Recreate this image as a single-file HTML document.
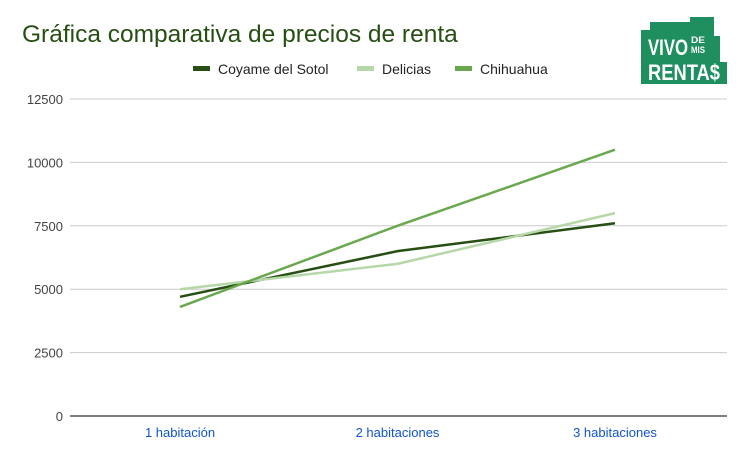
<!DOCTYPE html>
<html><head><meta charset="utf-8"><style>
body{margin:0;background:#fff;font-family:"Liberation Sans",sans-serif;}
</style></head><body>
<svg width="749" height="461" xmlns="http://www.w3.org/2000/svg">
<rect width="749" height="461" fill="#fff"/>
<text x="22" y="42" font-size="24.5" fill="#274e13" font-family="Liberation Sans">Gráfica comparativa de precios de renta</text>
<g>
<path d="M641,84 L641,30 L650,30 L650,22 L690,22 L690,17 L714,17 L714,36 L720,36 L720,62 L727,62 L727,84 Z" fill="#1f8f5f"/>
<text x="648" y="55" font-size="22" font-weight="bold" fill="#fff" textLength="40" lengthAdjust="spacingAndGlyphs">VIVO</text>
<text x="691" y="43" font-size="9" font-weight="bold" fill="#fff" textLength="14" lengthAdjust="spacingAndGlyphs">DE</text>
<text x="691" y="53" font-size="9" font-weight="bold" fill="#fff" textLength="14" lengthAdjust="spacingAndGlyphs">MIS</text>
<text x="648" y="80" font-size="22" font-weight="bold" fill="#fff" textLength="72" lengthAdjust="spacingAndGlyphs">RENTA$</text>
</g>
<g id="legend" font-size="14" fill="#222"></g>
<g id="grid"></g>
<g id="series"></g>
</svg>
<script>
const categories=["1 habitación","2 habitaciones","3 habitaciones"];
const seriesNames=["Coyame del Sotol","Delicias","Chihuahua"];
const coyame=[4700,6500,7600];
const delicias=[5000,6000,8000];
const chihuahua=[4300,7500,10500];
const yTicks=[0,2500,5000,7500,10000,12500];
const colors=["#274e13","#b6d7a8","#6aa84f"];
const NS="http://www.w3.org/2000/svg";
const y=v=>416-v/12500*317;
const x=i=>180+i*217.5;
function mk(t,a,p){const e=document.createElementNS(NS,t);for(const k in a)e.setAttribute(k,a[k]);p.appendChild(e);return e;}
const grid=document.getElementById('grid');
yTicks.forEach(t=>{
 const l=mk('line',{x1:70,x2:727,y1:y(t),y2:y(t),stroke:t===0?'#333':'#ccc','stroke-width':t===0?1.2:1},grid);
 
 
 const tx=mk('text',{x:63,y:y(t)+5,'text-anchor':'end','font-size':13,fill:'#444'},grid);
 tx.textContent=t;
 
 
});
categories.forEach((c,i)=>{
 const tx=mk('text',{x:x(i),y:437,'text-anchor':'middle','font-size':13,fill:'#1155cc'},grid);
 tx.textContent=c;
 
 
});
const ser=document.getElementById('series');
[coyame,delicias,chihuahua].forEach((d,s)=>{
 const p=mk('polyline',{points:d.map((v,i)=>x(i)+','+y(v)).join(' '),fill:'none',stroke:colors[s],'stroke-width':2.5},ser);
 
 
});
const lg=document.getElementById('legend');
const lx=[193,357,455];
seriesNames.forEach((n,i)=>{
 const r=mk('rect',{x:lx[i],y:66,width:17,height:5,fill:colors[i]},lg);
 
 
 const t=mk('text',{x:lx[i]+25,y:74,'font-size':14,fill:'#222'},lg);
 t.textContent=n;
 
 
});
</script>
</body></html>
